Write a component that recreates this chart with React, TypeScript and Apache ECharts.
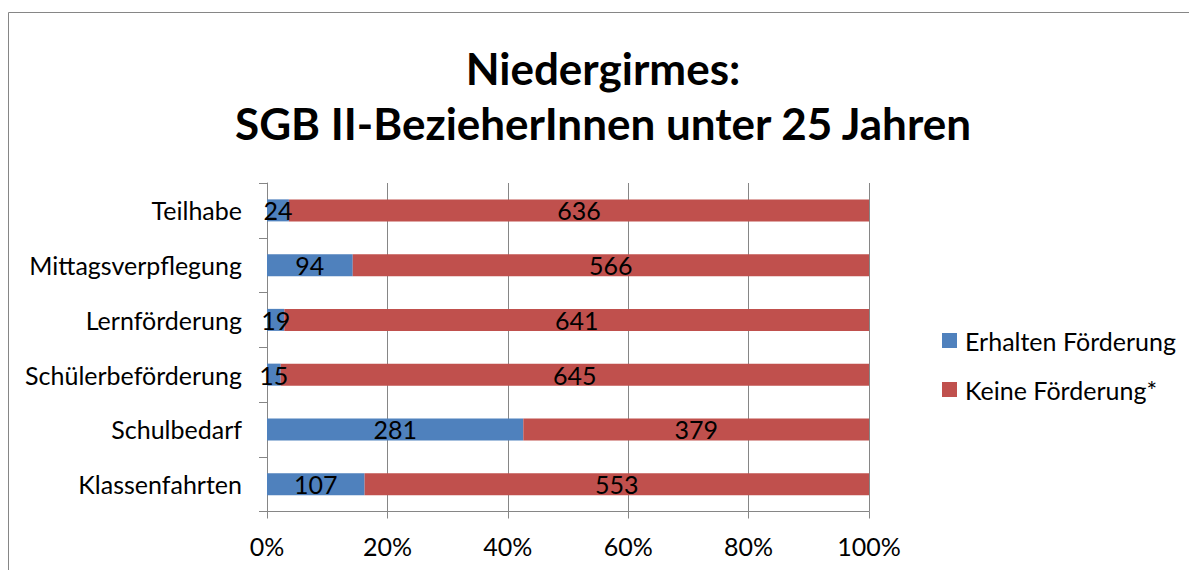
import React, { useEffect, useRef } from "react";
import * as echarts from "echarts";

const categories = ["Klassenfahrten", "Schulbedarf", "Schülerbeförderung", "Lernförderung", "Mittagsverpflegung", "Teilhabe"];
const erhalten = [107, 281, 15, 19, 94, 24];
const keine = [553, 379, 645, 641, 566, 636];
const xTicks = [0, 20, 40, 60, 80, 100];
const seriesNames = ["Erhalten Förderung", "Keine Förderung*"];

const FONT = "Lato";
const FS = 25;

export default function App() {
  const ref = useRef<HTMLDivElement>(null);
  useEffect(() => {
    document.body.style.margin = "0";
    const chart = echarts.init(ref.current!, null, { renderer: "svg" });
    const pct = (arr: number[]) => arr.map((v, i) => (v / (erhalten[i] + keine[i])) * 100);
    const raw = [erhalten, keine];
    chart.setOption({
      animation: false,
      backgroundColor: "#fff",
      textStyle: { fontFamily: FONT },
      title: {
        text: "Niedergirmes:\nSGB II-BezieherInnen unter 25 Jahren",
        left: 598,
        textAlign: "center",
        top: 35,
        textStyle: { fontFamily: FONT, fontWeight: "bold", fontSize: 44, lineHeight: 55, color: "#000" },
      },
      graphic: [
        {
          type: "rect",
          shape: { x: 8.5, y: 12.5, width: 1300, height: 700 },
          style: { fill: "none", stroke: "#868686", lineWidth: 1 },
          silent: true,
        },
      ],
      legend: {
        orient: "vertical",
        left: 942,
        top: 327,
        padding: 0,
        itemWidth: 15,
        itemHeight: 15,
        itemGap: 22,
        icon: "rect",
        textStyle: { fontFamily: FONT, fontSize: FS, color: "#000", lineHeight: 27, padding: [0, 0, 0, 3] },
        data: seriesNames,
      },
      grid: { left: 267, right: 320, top: 183, bottom: 58.5 },
      xAxis: {
        type: "value",
        min: 0,
        max: 100,
        interval: 20,
        axisLine: { show: true, lineStyle: { color: "#868686", width: 1 } },
        axisTick: { show: true, length: 7, lineStyle: { color: "#868686" } },
        splitLine: { show: true, lineStyle: { color: "#868686", width: 1 } },
        axisLabel: {
          margin: 22,
          fontFamily: FONT,
          fontSize: FS,
          color: "#000",
          formatter: (v: number) => (xTicks.includes(v) ? v + "%" : ""),
        },
      },
      yAxis: {
        type: "category",
        data: categories,
        axisLine: { show: true, lineStyle: { color: "#868686", width: 1 } },
        axisTick: { show: true, length: 8, lineStyle: { color: "#868686" } },
        axisLabel: { margin: 25, fontFamily: FONT, fontSize: FS, color: "#000" },
      },
      series: [pct(erhalten), pct(keine)].map((d, si) => ({
        name: seriesNames[si],
        type: "bar",
        stack: "total",
        barWidth: 22,
        data: d,
        itemStyle: { color: si === 0 ? "#4F81BD" : "#C0504D" },
        label: {
          show: true,
          position: "inside",
          fontFamily: FONT,
          fontSize: FS,
          color: "#000",
          formatter: (p: any) => String(raw[si][p.dataIndex]),
        },
      })),
    });
    return () => chart.dispose();
  }, []);
  return <div ref={ref} style={{ width: 1189, height: 570 }} />;
}
